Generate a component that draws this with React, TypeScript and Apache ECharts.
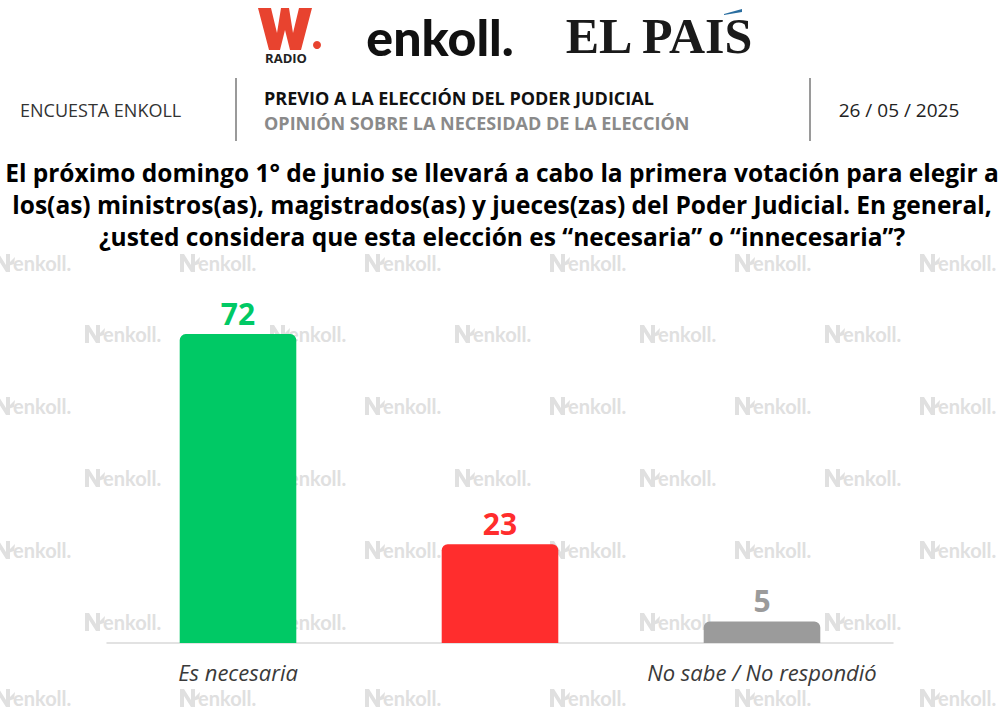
import React, { useEffect, useRef } from "react";
import * as echarts from "echarts";

const categories = ["Es necesaria", "Es innecesaria", "No sabe / No respondió"];
const values = [72, 23, 5];
const barColors = ["#00C965", "#FF2D2D", "#9B9B9B"];
const labelColors = ["#00C965", "#FF2D2D", "#9B9B9B"];

const titleLines = [
  "El próximo domingo 1° de junio se llevará a cabo la primera votación para elegir a",
  "los(as) ministros(as), magistrados(as) y jueces(zas) del Poder Judicial. En general,",
  "¿usted considera que esta elección es “necesaria” o “innecesaria”?",
];

const FONT = "'Open Sans', Lato, sans-serif";
const LOGO_FONT = "Lato, 'Open Sans', sans-serif";

function watermark(x: number, y: number) {
  const c = "#E0E0E0";
  return {
    type: "group",
    x,
    y,
    z: -10,
    silent: true,
    children: [
      {
        type: "polygon",
        shape: {
          points: [
            [0, 9], [0, -9], [4, -9], [11, 2], [11, -9], [15, -9], [15, 9], [11, 9], [4, -2], [4, 9],
          ],
        },
        style: { fill: c },
      },
      {
        type: "polygon",
        shape: { points: [[10, 4], [20, -6], [19, 1]] },
        style: { fill: c },
      },
      {
        type: "text",
        x: 18,
        y: 0,
        style: {
          text: "enkoll.",
          fill: c,
          font: `bold 20px ${LOGO_FONT}`,
          lineHeight: 18,
          textVerticalAlign: "middle",
        },
      },
    ],
  };
}

export default function App() {
  const ref = useRef<HTMLDivElement>(null);
  useEffect(() => {
    if (!ref.current) return;
    const chart = echarts.init(ref.current, null, { renderer: "svg" });

    const wm: any[] = [];
    const rowA = [263, 406, 550, 698];
    const rowB = [334, 478, 622];
    rowA.forEach((y) => [-5, 180, 365, 550, 735, 920].forEach((x) => wm.push(watermark(x, y))));
    rowB.forEach((y) => [85, 270, 455, 640, 825].forEach((x) => wm.push(watermark(x, y))));

    const graphic: any[] = [
      ...wm,
      // W Radio logo
      {
        type: "polygon",
        shape: {
          points: [
            [258, 8], [271, 8], [277, 33], [281, 8], [289, 8], [293, 33], [299, 8], [312, 8],
            [301, 50], [290, 50], [285, 30], [280, 50], [269, 50],
          ],
        },
        style: { fill: "#E8432F" },
      },
      { type: "circle", shape: { cx: 317, cy: 45, r: 4 }, style: { fill: "#E8432F" } },
      {
        type: "text",
        x: 286,
        y: 58,
        style: {
          text: "RADIO",
          fill: "#222",
          font: `bold 13px ${FONT}`,
          textAlign: "center",
          textVerticalAlign: "middle",
        },
      },
      // enkoll logo
      {
        type: "text",
        x: 440,
        y: 37,
        style: {
          text: "enkoll.",
          fill: "#111",
          font: `900 50px ${LOGO_FONT}`,
          textAlign: "center",
          textVerticalAlign: "middle",
        },
      },
      // El Pais logo
      {
        type: "text",
        x: 659,
        y: 36,
        style: {
          text: "EL PAIS",
          fill: "#1a1a1a",
          font: "bold 50px 'Liberation Serif', 'DejaVu Serif', serif",
          textAlign: "center",
          textVerticalAlign: "middle",
        },
      },
      {
        type: "polygon",
        shape: { points: [[724, 14], [742, 9], [742, 12], [724, 15]] },
        style: { fill: "#2A6EA0" },
      },
      // header row
      {
        type: "text",
        x: 20,
        y: 110,
        style: {
          text: "ENCUESTA ENKOLL",
          fill: "#333",
          font: `18px ${FONT}`,
          textVerticalAlign: "middle",
        },
      },
      { type: "line", shape: { x1: 236, y1: 78, x2: 236, y2: 141 }, style: { stroke: "#9a9a9a", lineWidth: 2 } },
      { type: "line", shape: { x1: 810, y1: 78, x2: 810, y2: 141 }, style: { stroke: "#9a9a9a", lineWidth: 2 } },
      {
        type: "text",
        x: 264,
        y: 98,
        style: {
          text: "PREVIO A LA ELECCIÓN DEL PODER JUDICIAL",
          fill: "#111",
          font: `bold 18px ${FONT}`,
          textVerticalAlign: "middle",
        },
      },
      {
        type: "text",
        x: 264,
        y: 123,
        style: {
          text: "OPINIÓN SOBRE LA NECESIDAD DE LA ELECCIÓN",
          fill: "#8a8a8a",
          font: `bold 18px ${FONT}`,
          textVerticalAlign: "middle",
        },
      },
      {
        type: "text",
        x: 899,
        y: 110,
        style: {
          text: "26 / 05 / 2025",
          fill: "#222",
          font: `19px ${FONT}`,
          textAlign: "center",
          textVerticalAlign: "middle",
        },
      },
      ...titleLines.map((t, i) => ({
        type: "text",
        x: 502,
        y: 172 + i * 32,
        style: {
          text: t,
          fill: "#000",
          font: `bold 24.5px ${FONT}`,
          textAlign: "center",
          textVerticalAlign: "middle",
        },
      })),
    ];

    chart.setOption({
      animation: false,
      backgroundColor: "#fff",
      graphic,
      grid: { left: 107, right: 112, top: 214, bottom: 83, containLabel: false },
      xAxis: {
        type: "category",
        data: categories,
        axisLine: { show: true, lineStyle: { color: "#D9D9D9", width: 1.5 } },
        axisTick: { show: false },
        axisLabel: {
          margin: 19,
          color: "#3a3a3a",
          fontFamily: FONT,
          fontStyle: "italic",
          fontWeight: 500,
          fontSize: 22,
          lineHeight: 20,
        },
      },
      yAxis: { type: "value", min: 0, max: 100, show: false, splitLine: { show: false } },
      series: [
        {
          type: "bar",
          barWidth: "44.5%",
          z: 5,
          data: values.map((v, i) => ({
            value: v,
            itemStyle: { color: barColors[i], borderRadius: [6, 6, 0, 0] },
            label: { color: labelColors[i] },
          })),
          label: {
            show: true,
            position: "top",
            distance: 6,
            fontFamily: FONT,
            fontWeight: "bold",
            fontSize: 30,
          },
        },
      ],
    });
    return () => chart.dispose();
  }, []);
  return <div ref={ref} style={{ width: 1005, height: 726, position: "absolute", left: 0, top: 0 }} />;
}
